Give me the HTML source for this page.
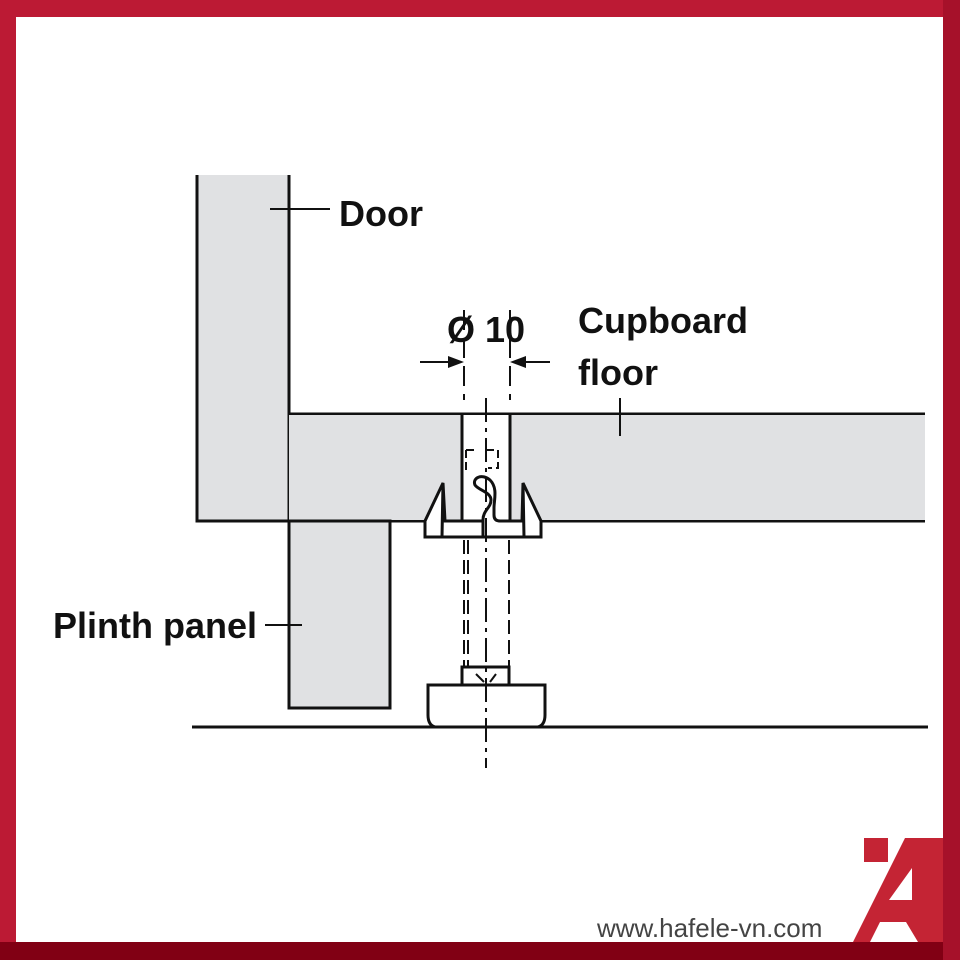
<!DOCTYPE html>
<html><head><meta charset="utf-8"><style>
body{margin:0;width:960px;height:960px;overflow:hidden;background:#b8152f}
svg{display:block}
</style></head><body>
<svg width="960" height="960" viewBox="0 0 960 960" xmlns="http://www.w3.org/2000/svg">
<rect x="0" y="0" width="960" height="960" fill="#bc1a34"/>
<rect x="0" y="942" width="960" height="18" fill="#810014"/>
<rect x="943" y="0" width="17" height="960" fill="#a6112a"/>
<rect x="16" y="17" width="927" height="925" fill="#fff"/>
<g stroke="#111" stroke-width="3" fill="#e0e1e3">
<path d="M197 175 V521 H289 V175"/>
<path d="M289 414 H925 M925 521 H541 M425 521 H289" fill="none"/>
<rect x="289" y="415" width="636" height="105" stroke="none"/>
<rect x="462" y="415" width="48" height="105" fill="#fff" stroke="none"/>
<path d="M462 414 V521 M510 414 V521" fill="none"/>
<rect x="289" y="521" width="101" height="187"/>
<path d="M192 727 H928" fill="none"/>
<!-- clip -->
<path d="M425 521 L425 537 L541 537 L541 521 L523 483 L522 521 L445 521 L443 483 Z" fill="#fff"/>
<path d="M443 483 L442 537 M523 483 L524 537" fill="none"/>
<path d="M487 537 C487 520 490 515 498 515 L510 515" fill="none" stroke="none"/>
<path d="M483 537 V520 C483 510 491 508 491 500 C491 492 478 490 475 485 C472 478 482 473 490 480 C498 488 494 500 494 508 V515 Q494 521 500 521" fill="#fff"/>
<!-- foot -->
<rect x="462" y="667" width="47" height="18" fill="#fff"/>
<path d="M428 685 H545 V715 Q545 725 538 727 H435 Q428 725 428 715 Z" fill="#fff"/>
</g>
<g stroke="#111" stroke-width="2" fill="none">
<path d="M486 398 V768" stroke-dasharray="24 6 4 6"/>
<path d="M464 540 V667 M468 540 V667 M509 540 V667" stroke-dasharray="14 6"/>
<path d="M466 450 V470 M466 450 H474 M486 450 H498 V468 H488" stroke-dasharray="8 4"/>
<path d="M464 310 V400 M510 310 V400" stroke-dasharray="20 8"/>
<path d="M420 362 H450 M524 362 H550"/>
<path d="M476 674 L484 682 M496 674 L490 682"/>
<path d="M270 209 H330 M620 398 V436 M265 625 H302"/>
</g>
<path d="M464 362 L448 356 L448 368 Z M510 362 L526 356 L526 368 Z" fill="#111"/>
<g font-family="Liberation Sans, sans-serif" font-weight="bold" fill="#111">
<text x="339" y="226" font-size="36">Door</text>
<text x="447" y="342" font-size="36">Ø 10</text>
<text x="578" y="333" font-size="36">Cupboard</text>
<text x="578" y="385" font-size="36">floor</text>
<text x="53" y="638" font-size="36">Plinth panel</text>
</g>
<text x="597" y="937" font-family="Liberation Sans, sans-serif" font-size="26" fill="#444">www.hafele-vn.com</text>
<rect x="864" y="838" width="24" height="24" fill="#c42434"/>
<path d="M853 942 L905 838 L943 838 L943 942 L918 942 L906 922 L880 922 L870 942 Z M889 900 L912 900 L912 868 Z" fill="#c42434" fill-rule="evenodd"/>
</svg>
</body></html>
